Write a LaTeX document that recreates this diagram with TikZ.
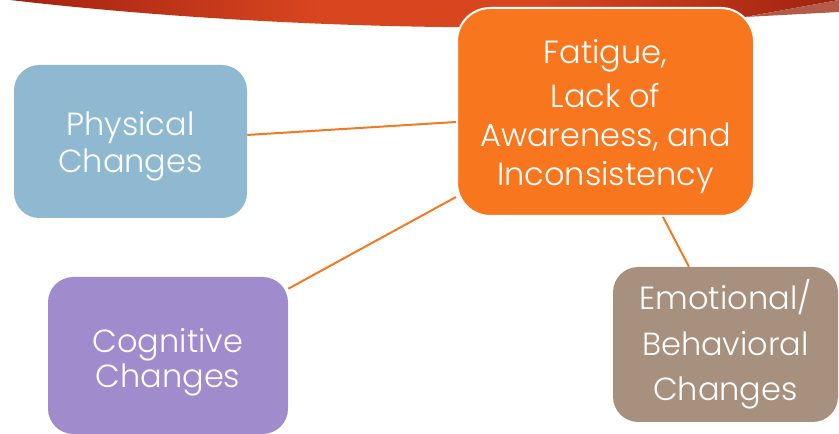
\documentclass[tikz,border=0pt]{standalone}
\usepackage{fontspec}
\setmainfont{Poppins}[UprightFont=* Light]
\definecolor{bandL}{HTML}{A0200F}
\definecolor{bandM}{HTML}{D84620}
\definecolor{bandR}{HTML}{A0220F}
\definecolor{wedge}{HTML}{B35A48}
\definecolor{physblue}{HTML}{8FB9D0}
\definecolor{cogpurple}{HTML}{A08CCC}
\definecolor{emobrown}{HTML}{A8907E}
\definecolor{fatorange}{HTML}{F8761E}
\definecolor{lineorange}{HTML}{F27A22}
\pgfdeclarehorizontalshading{bandshade}{100bp}{color(0bp)=(bandL); color(25bp)=(bandL);
  color(44bp)=(bandM); color(57bp)=(bandM); color(75bp)=(bandR); color(100bp)=(bandR)}
\begin{document}
\begin{tikzpicture}[x=0.75pt,y=-0.75pt,
  box/.style={rounded corners=19pt, inner sep=0pt},
  txt/.style={text=white, align=center, inner sep=0pt,
    font=\fontsize{24}{27}\selectfont},
  link/.style={draw=lineorange, line width=1.5pt}]
\useasboundingbox (0,0) rectangle (839,434);
% banner
\shade[shading=bandshade]
  (0,0) -- (10,0) .. controls (250,28) and (550,36) .. (745,17) -- (839,0) -- cycle;
\fill[wedge] (745,17) -- (839,0) -- (839,12) -- cycle;
% boxes
\node[box, fill=physblue, minimum width=174.75pt, minimum height=114.75pt]
  (phys) at (130.5,141.5) {};
\node[box, fill=cogpurple, minimum width=180pt, minimum height=117.75pt]
  (cog) at (168,355.5) {};
\node[box, fill=emobrown, minimum width=168.75pt, minimum height=116.25pt]
  (emo) at (725.5,344.5) {};
\node[box, fill=fatorange, draw=white, line width=1.5pt, rounded corners=25pt,
  minimum width=222.75pt, minimum height=156pt]
  (fat) at (605.5,112) {};
% texts
\node[txt, font=\fontsize{24}{27.5}\selectfont] (physText) at ([yshift=-3.5pt]phys.center) {Physical\\Changes};
\node[txt, font=\fontsize{24}{26.5}\selectfont] (cogText) at ([yshift=-5pt]cog.center) {Cognitive\\Changes};
\node[txt, font=\fontsize{24}{34}\selectfont] (emoText) at ([yshift=0pt]emo.center) {Emotional/\\Behavioral\\Changes};
\node[txt, font=\fontsize{24}{29}\selectfont] (fatText) at ([yshift=-3.5pt]fat.center) {Fatigue,\\[4pt]Lack of\\Awareness, and\\Inconsistency};
% connectors
\draw[link] ([yshift=4.9pt]phys.east) -- ([yshift=-7.5pt]fat.west);
\draw[link] ([yshift=-9pt]cog.north east) -- ([yshift=15pt]fat.south west);
\draw[link] ([xshift=43.1pt]fat.south) -- ([xshift=-27.4pt]emo.north);
\end{tikzpicture}
\end{document}
